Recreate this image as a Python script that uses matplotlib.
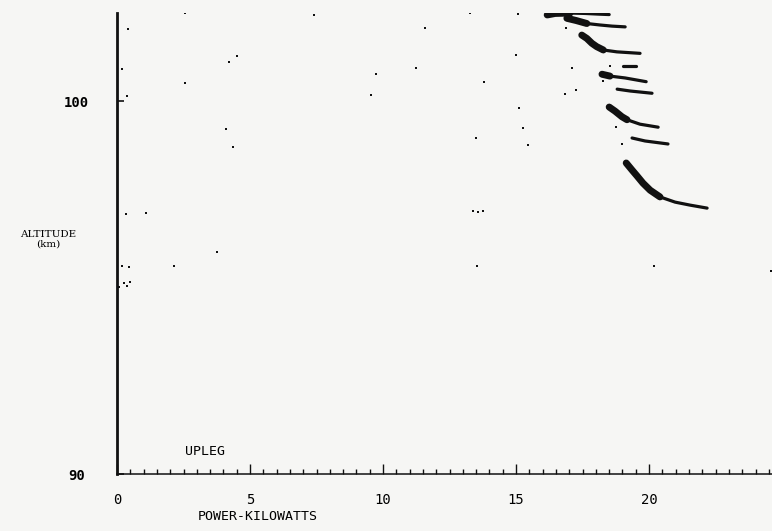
import numpy as np
import matplotlib.pyplot as plt

# isolated returns (power kW, altitude km)
dots_x = [2.55, 7.42, 0.41, 4.50, 4.22, 0.20, 2.57, 0.38, 4.11, 4.37,
          13.28, 15.06, 11.59, 15.00, 11.25, 9.75, 13.80, 9.54, 15.10, 15.25,
          13.50, 15.46, 0.34, 1.10, 3.75, 0.20, 0.44, 2.14, 0.26, 0.39,
          0.48, 0.08, 13.39, 13.58, 13.77, 13.53, 20.18, 24.57,
          16.88, 17.09, 18.76, 18.97, 18.28, 16.84, 17.26, 18.53]
dots_y = [102.35, 102.31, 101.92, 101.21, 101.06, 100.86, 100.49, 100.14, 99.24, 98.77,
          102.37, 102.33, 101.95, 101.24, 100.90, 100.72, 100.51, 100.17, 99.81, 99.28,
          99.00, 98.81, 96.96, 97.01, 95.95, 95.58, 95.54, 95.58, 95.12, 95.05,
          95.15, 95.01, 97.05, 97.02, 97.05, 95.58, 95.58, 95.45,
          101.96, 100.89, 99.31, 98.84, 100.54, 100.18, 100.31, 100.94]

# traces of the layered echoes
band1_x = [16.17, 16.47, 17.03, 17.59, 18.16, 18.50]
band1_y = [102.31, 102.35, 102.36, 102.35, 102.33, 102.32]
band2_x = [16.91, 17.26, 17.66, 18.16, 18.61, 19.10]
band2_y = [102.22, 102.16, 102.08, 102.04, 102.01, 101.99]
band3_x = [17.47, 17.66, 17.85, 18.03, 18.28, 18.79, 19.66]
band3_y = [101.77, 101.68, 101.55, 101.46, 101.37, 101.32, 101.28]
dash_x = [19.02, 19.51]
dash_y = [100.94, 100.94]
band4_x = [18.23, 18.53, 19.10, 19.89]
band4_y = [100.72, 100.67, 100.62, 100.52]
band5_x = [18.80, 19.29, 20.11]
band5_y = [100.32, 100.27, 100.21]
band6_x = [18.50, 18.72, 18.98, 19.17, 19.66, 20.34]
band6_y = [99.84, 99.73, 99.58, 99.50, 99.38, 99.30]
band7_x = [19.36, 19.85, 20.71]
band7_y = [99.01, 98.93, 98.85]
band8_x = [19.14, 19.36, 19.55, 19.77, 20.04, 20.41, 20.98, 21.54, 22.18]
band8_y = [98.34, 98.15, 97.99, 97.80, 97.61, 97.43, 97.29, 97.21, 97.13]

bands = [(band1_x, band1_y, 3), (band2_x, band2_y, 3), (band3_x, band3_y, 5),
         (dash_x, dash_y, 0), (band4_x, band4_y, 2), (band5_x, band5_y, 0),
         (band6_x, band6_y, 4), (band7_x, band7_y, 0), (band8_x, band8_y, 6)]

bg = '#f6f6f4'
ink = '#111111'
fig = plt.figure(figsize=(7.72, 5.31), dpi=100, facecolor=bg)
ax = fig.add_axes([117 / 772, 57 / 531, 1 - 117 / 772, 461.3 / 531])
ax.set_facecolor(bg)

for bx, by, nd in bands:
    ax.plot(bx, by, color=ink, lw=2.3, solid_capstyle='round')
    if nd:
        ax.plot(bx[:nd], by[:nd], color=ink, lw=5, solid_capstyle='round')
ax.scatter(dots_x, dots_y, s=4, marker='s', color=ink, linewidths=0)

ax.set_xlim(0, 24.62)
ax.set_ylim(90, 102.37)

for s in ['top', 'right']:
    ax.spines[s].set_visible(False)
ax.spines['left'].set_linewidth(2.0)
ax.spines['bottom'].set_linewidth(1.1)
ax.spines['left'].set_color(ink)
ax.spines['bottom'].set_color(ink)

ax.set_xticks([0, 5, 10, 15, 20])
ax.set_xticks(np.arange(0, 24.6, 0.5), minor=True)
ax.set_xticklabels(['0', '5', '10', '15', '20'], family='DejaVu Sans Mono', fontsize=10)
ax.tick_params(axis='x', which='major', direction='in', length=7, width=1, pad=14, color=ink)
ax.tick_params(axis='x', which='minor', direction='in', length=3.5, width=1, color=ink)

ax.set_yticks([90, 100])
ax.set_yticklabels(['90', '100'], family='DejaVu Sans Mono', fontsize=10, fontweight='bold')
ax.tick_params(axis='y', direction='in', length=5, width=1.2, pad=29, color=ink)
for lab in ax.get_yticklabels():
    lab.set_horizontalalignment('center')

ax.text(-2.6, 96.3, 'ALTITUDE\n(km)', family='DejaVu Serif', fontsize=7.5,
        ha='center', va='center', linespacing=1.1)
ax.text(5.3, 88.85, 'POWER-KILOWATTS', family='DejaVu Sans Mono', fontsize=9.5,
        ha='center', va='center')
ax.text(3.3, 90.6, 'UPLEG', family='DejaVu Sans Mono', fontsize=9.5,
        ha='center', va='center')

fig.savefig('out.png', dpi=100, facecolor=bg)
